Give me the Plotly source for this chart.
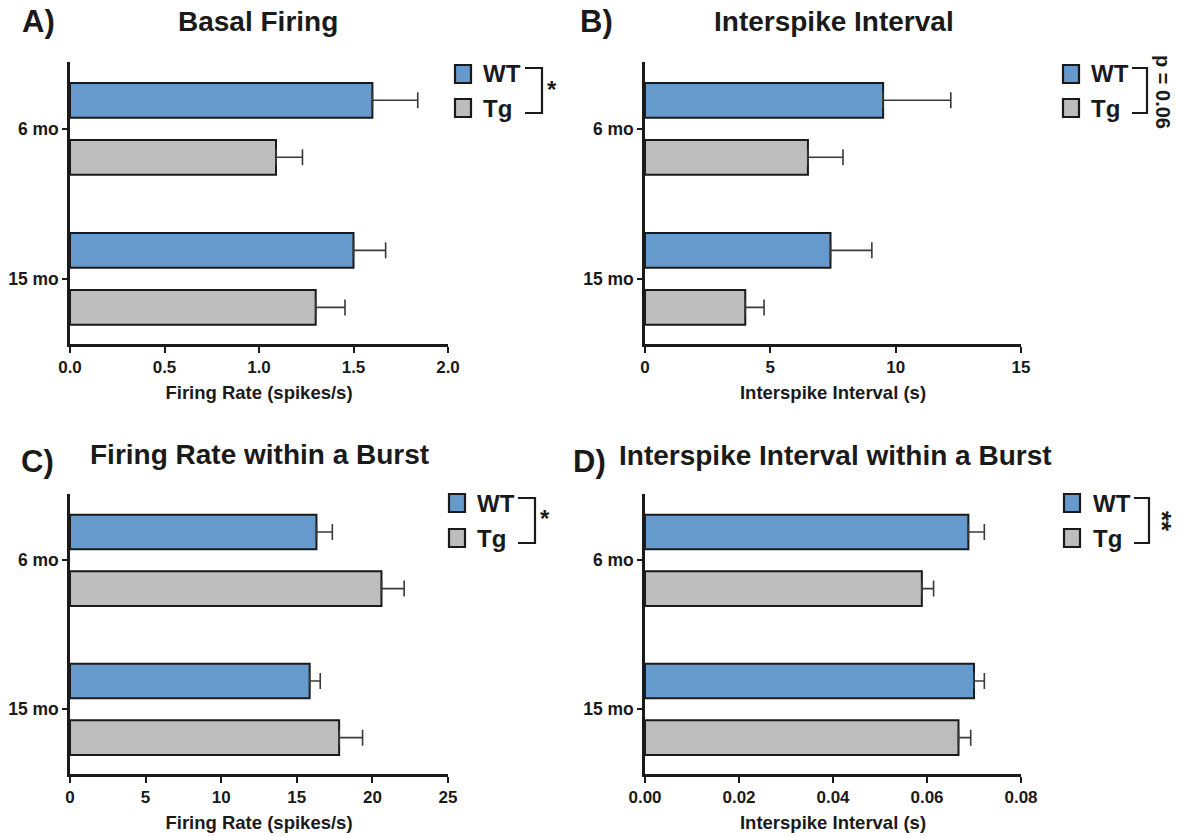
import plotly.graph_objects as go

W, H = 1188, 836

# ---------------- data ----------------
categories = ["6 mo", "15 mo"]
groups = ["WT", "Tg"]

basal_wt = [1.60, 1.50]
basal_wt_sem = [0.24, 0.17]
basal_tg = [1.09, 1.30]
basal_tg_sem = [0.14, 0.155]

isi_wt = [9.5, 7.4]
isi_wt_sem = [2.7, 1.65]
isi_tg = [6.5, 4.0]
isi_tg_sem = [1.4, 0.75]

burst_rate_wt = [16.3, 15.85]
burst_rate_wt_sem = [1.05, 0.7]
burst_rate_tg = [20.6, 17.8]
burst_rate_tg_sem = [1.5, 1.55]

burst_isi_wt = [0.0688, 0.0700]
burst_isi_wt_sem = [0.0034, 0.0022]
burst_isi_tg = [0.0589, 0.0667]
burst_isi_tg_sem = [0.0025, 0.0026]

panel_titles = ["Basal Firing", "Interspike Interval",
                "Firing Rate within a Burst", "Interspike Interval within a Burst"]
panel_letters = ["A)", "B)", "C)", "D)"]
x_titles = ["Firing Rate (spikes/s)", "Interspike Interval (s)",
            "Firing Rate (spikes/s)", "Interspike Interval (s)"]
x_ticks = [[0, 0.5, 1.0, 1.5, 2.0], [0, 5, 10, 15], [0, 5, 10, 15, 20, 25],
           [0, 0.02, 0.04, 0.06, 0.08]]
x_ticktext = [["0.0", "0.5", "1.0", "1.5", "2.0"], ["0", "5", "10", "15"],
              ["0", "5", "10", "15", "20", "25"],
              ["0.00", "0.02", "0.04", "0.06", "0.08"]]
x_ranges = [[0, 2.0], [0, 15], [0, 25], [0, 0.08]]
significance = ["*", "p = 0.06", "*", "**"]

panels = [
    (basal_wt, basal_wt_sem, basal_tg, basal_tg_sem),
    (isi_wt, isi_wt_sem, isi_tg, isi_tg_sem),
    (burst_rate_wt, burst_rate_wt_sem, burst_rate_tg, burst_rate_tg_sem),
    (burst_isi_wt, burst_isi_wt_sem, burst_isi_tg, burst_isi_tg_sem),
]

# ---------------- style ----------------
FONT = "Liberation Sans"
INK = "#1a1a1a"
COLORS = {"WT": "#6699cc", "Tg": "#bdbdbd"}


def px(x):
    return x / W


def py(y):
    return 1 - y / H


# plot areas in pixels: (left, right, top, bottom)
areas = [(70, 448, 62, 344), (645, 1021, 62, 344),
         (70, 448, 494, 774), (645, 1021, 494, 774)]

fig = go.Figure()
layout = dict(
    width=W, height=H,
    margin=dict(l=0, r=0, t=0, b=0, pad=0, autoexpand=False),
    paper_bgcolor="white", plot_bgcolor="white",
    barmode="group", bargap=0.24, bargroupgap=0.39,
    showlegend=False,
    font=dict(family=FONT, color=INK),
)

for i, (wt, wt_sem, tg, tg_sem) in enumerate(panels):
    n = "" if i == 0 else str(i + 1)
    xa, ya = "x" + n, "y" + n
    l, r, t, b = areas[i]
    for g, mean, sem in (("WT", wt, wt_sem), ("Tg", tg, tg_sem)):
        fig.add_trace(go.Bar(
            orientation="h", y=categories, x=mean, name=g,
            xaxis=xa, yaxis=ya,
            marker=dict(color=COLORS[g], line=dict(color=INK, width=2)),
            error_x=dict(type="data", array=sem, arrayminus=[0] * len(sem),
                         symmetric=False, color="#3a3a3a", thickness=1.6, width=8),
        ))
    layout["xaxis" + n] = dict(
        domain=[px(l), px(r)], anchor=ya, range=x_ranges[i],
        tickvals=x_ticks[i], ticktext=x_ticktext[i],
        showline=True, linecolor=INK, linewidth=2.5, mirror=False,
        ticks="outside", ticklen=6, tickwidth=2, tickcolor=INK,
        showgrid=False, zeroline=False, automargin=False,
        tickfont=dict(family=FONT, size=17, color=INK, weight="bold"),
        title=dict(text=x_titles[i], standoff=10,
                   font=dict(family=FONT, size=18.5, color=INK, weight="bold")),
        fixedrange=True,
    )
    layout["yaxis" + n] = dict(
        domain=[py(b), py(t)], anchor=xa, type="category",
        categoryorder="array", categoryarray=categories,
        range=[1.434, -0.445],
        showline=True, linecolor=INK, linewidth=2.5,
        ticks="outside", ticklen=5, tickwidth=2, tickcolor=INK,
        showgrid=False, zeroline=False, automargin=False,
        tickfont=dict(family=FONT, size=17.5, color=INK, weight="bold"),
        fixedrange=True,
    )

fig.update_layout(**layout)

# ---------------- titles ----------------
title_pos = [(258, 22), (834, 22), (259, 454), (835, 455)]
letter_pos = [(38, 22), (596, 22), (37, 461), (589, 461)]
title_sizes = [28, 28, 28, 28]
for i in range(4):
    fig.add_annotation(text=panel_titles[i], x=px(title_pos[i][0]), y=py(title_pos[i][1]),
                       xref="paper", yref="paper", showarrow=False,
                       xanchor="center", yanchor="middle",
                       font=dict(family=FONT, size=title_sizes[i], color=INK, weight="bold"))
    fig.add_annotation(text=panel_letters[i], x=px(letter_pos[i][0]), y=py(letter_pos[i][1]),
                       xref="paper", yref="paper", showarrow=False,
                       xanchor="center", yanchor="middle",
                       font=dict(family=FONT, size=31, color=INK, weight="bold"))

# ---------------- legends with significance brackets ----------------
# (box_left, box_top_WT, box_top_Tg, text_left, bracket_left, bracket_right,
#  bracket_top, bracket_bottom, sig_x, sig_y)
legends = [
    (455, 65, 99, 481, 525, 542, 68, 113, 552, 90),
    (1063, 65, 99, 1089, 1132, 1147, 68, 113, 1163, 92),
    (449, 494, 529, 475, 518, 535, 498, 543, 545, 518),
    (1064, 494, 529, 1091, 1134, 1149, 498, 543, 1162, 521),
]
for i, (bl, bt1, bt2, tl, kl, kr, kt, kb, sx, sy) in enumerate(legends):
    for g, bt in (("WT", bt1), ("Tg", bt2)):
        fig.add_shape(type="rect", xref="paper", yref="paper",
                      x0=px(bl), x1=px(bl + 16), y0=py(bt), y1=py(bt + 18),
                      fillcolor=COLORS[g], line=dict(color=INK, width=2.2))
        fig.add_annotation(text=g, x=px(tl), y=py(bt + 9), xref="paper", yref="paper",
                           showarrow=False, xanchor="left", yanchor="middle",
                           font=dict(family=FONT, size=24, color=INK, weight="bold"))
    fig.add_shape(type="path", xref="paper", yref="paper",
                  path=(f"M {px(kl)} {py(kt)} L {px(kr)} {py(kt)} "
                        f"L {px(kr)} {py(kb)} L {px(kl)} {py(kb)}"),
                  line=dict(color=INK, width=2.2))
    rotated = significance[i] != "*"
    fig.add_annotation(text=significance[i], x=px(sx), y=py(sy),
                       xref="paper", yref="paper", showarrow=False,
                       xanchor="center", yanchor="middle",
                       textangle=90 if rotated else 0,
                       font=dict(family=FONT, size=(20 if significance[i] != "**" else 26)
                                 if rotated else 24,
                                 color=INK, weight="bold"))

fig.write_html("out.html", config={"displayModeBar": False},
               post_script="document.body.style.margin='0';document.body.style.overflow='hidden';")
